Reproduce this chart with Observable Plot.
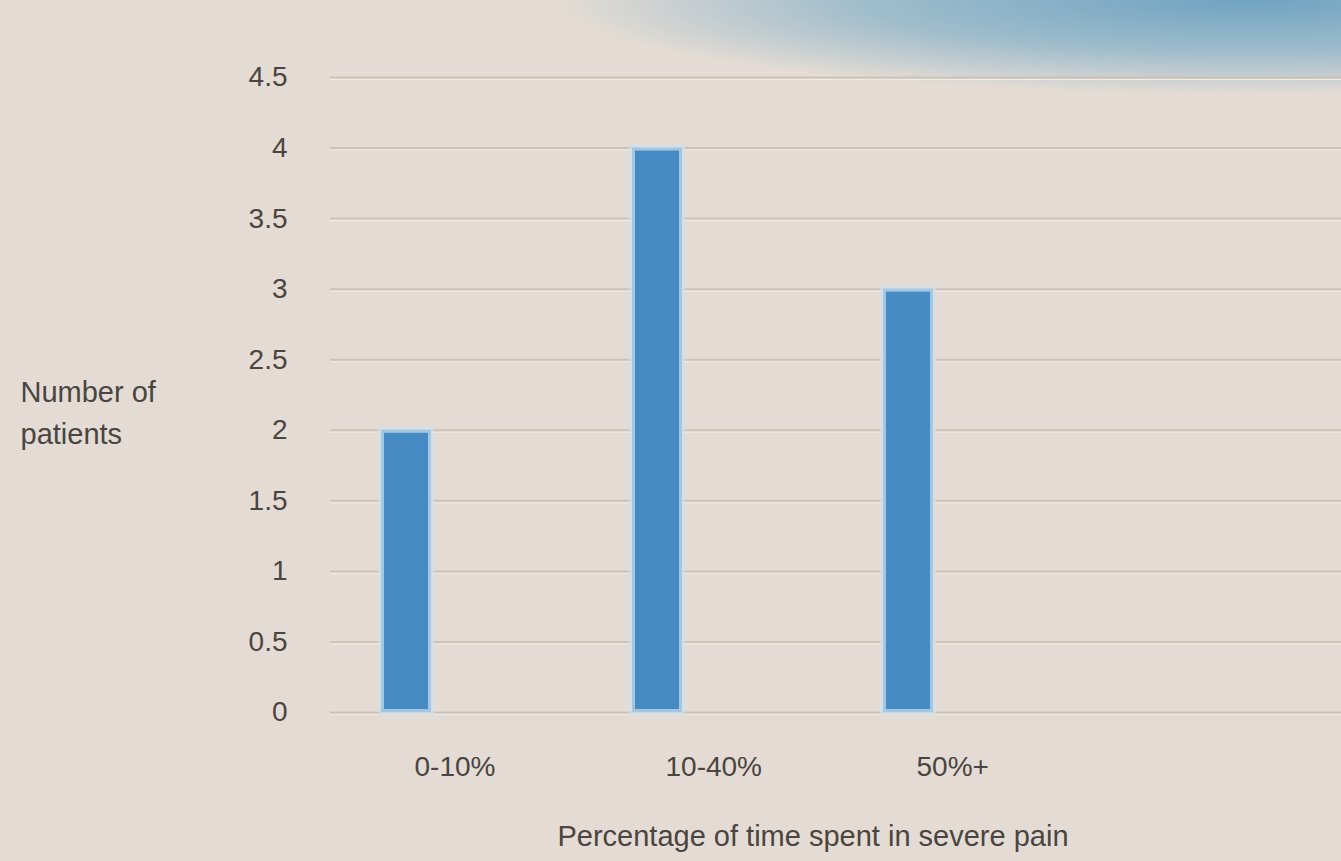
<!DOCTYPE html>
<html>
<head>
<meta charset="utf-8">
<script src="https://cdn.jsdelivr.net/npm/d3@7"></script>
<script src="https://cdn.jsdelivr.net/npm/@observablehq/plot@0.6"></script>
<style>
  html, body { margin: 0; padding: 0; }
  body {
    width: 1341px; height: 861px; overflow: hidden;
    background:
      radial-gradient(ellipse 700px 95px at 1250px 0px, rgba(105,160,192,0.95) 0%, rgba(130,175,200,0.7) 55%, rgba(227,219,211,0) 100%),
      #e4dcd4;
    font-family: "Liberation Sans", "Open Sans", sans-serif;
  }
  #chart svg { display: block; }
</style>
</head>
<body>
<div id="chart"></div>
<script>
const categories = ["0-10%", "10-40%", "50%+"];
const patients = [2, 4, 3];
const yTicks = [0, 0.5, 1, 1.5, 2, 2.5, 3, 3.5, 4, 4.5];
const yTitle = "Number of\npatients";
const xTitle = "Percentage of time spent in severe pain";

const data = categories.map((c, i) => ({category: c, value: patients[i]}));

const chart = Plot.plot({
  width: 1341,
  height: 861,
  marginLeft: 330,
  marginRight: 0,
  marginTop: 77,
  marginBottom: 149,
  style: {background: "transparent", fontFamily: "Liberation Sans, Open Sans, sans-serif", fontSize: "28px", color: "#4a4540"},
  x: {domain: categories, range: [330, 985], paddingInner: 0.8, paddingOuter: 0.2, label: null},
  y: {domain: [0, 4.5], label: null},
  marks: [
    Plot.ruleY(yTicks, {stroke: "#cbc2b8", strokeWidth: 2}),
    Plot.ruleY(yTicks, {stroke: "#f1ebe4", strokeWidth: 1, dy: 2}),
    Plot.barY(data, {x: "category", y: "value", fill: "#468ac3", stroke: "#cddfee", strokeWidth: 6, strokeOpacity: 0.7}),
    Plot.axisY({ticks: yTicks, tickSize: 0, tickPadding: 43, tickFormat: d => String(d), fontSize: 28, fill: "#4a4540"}),
    Plot.axisX({tickSize: 0, tickPadding: 44, textAnchor: "start", dx: 8, fontSize: 28, fill: "#4a4540"}),
    Plot.text([yTitle], {frameAnchor: "left", dx: -310, dy: 15, textAnchor: "start", lineAnchor: "middle", fontSize: 29, fill: "#4a4540", lineHeight: 1.45}),
    Plot.text([xTitle], {frameAnchor: "bottom", dx: -23, dy: 133, fontSize: 29, fill: "#4a4540"})
  ]
});
document.getElementById("chart").append(chart);
</script>
</body>
</html>
